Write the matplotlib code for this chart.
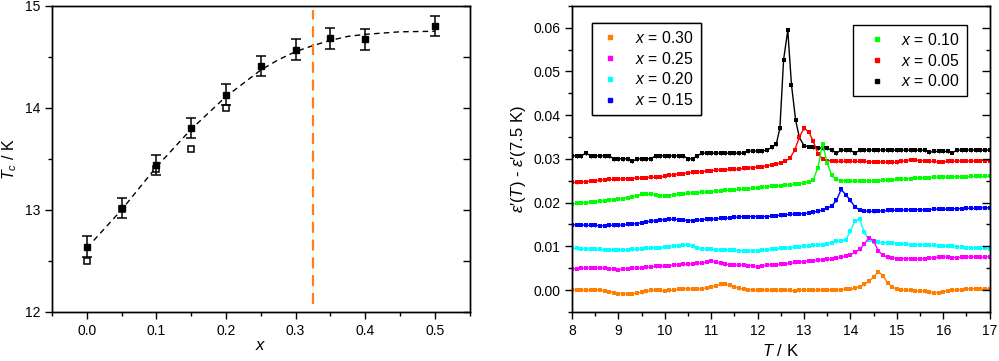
import numpy as np
import matplotlib
matplotlib.use("Agg")
import matplotlib.pyplot as plt
from matplotlib.lines import Line2D
from matplotlib.ticker import MultipleLocator, FormatStrFormatter

plt.rcParams['font.family'] = ['Liberation Sans', 'DejaVu Sans']
plt.rcParams['mathtext.fontset'] = 'custom'
plt.rcParams['mathtext.rm'] = 'Liberation Sans'
plt.rcParams['mathtext.it'] = 'Liberation Sans:italic'

# ---- left panel data: Tc vs x ----
x_fill = [0.0, 0.05, 0.10, 0.15, 0.20, 0.25, 0.30, 0.35, 0.40, 0.50]
tc_fill = [12.64, 13.02, 13.44, 13.80, 14.13, 14.41, 14.57, 14.68, 14.67, 14.80]
tc_err = [0.1] * len(x_fill)
x_open = [0.0, 0.05, 0.10, 0.15, 0.20]
tc_open = [12.50, 13.01, 13.40, 13.60, 14.00]
fit_x = [0.01, 0.05, 0.10, 0.15, 0.20, 0.25, 0.275, 0.30, 0.325, 0.35, 0.375, 0.40, 0.45, 0.50]
fit_y = [12.70, 13.00, 13.42, 13.79, 14.11, 14.37, 14.47, 14.55, 14.61, 14.66, 14.70, 14.72, 14.745, 14.75]
x_boundary = 0.325

# ---- right panel data: eps'(T) - eps'(7.5 K) ----
T = np.round(np.arange(80, 171) / 10, 1)   # 8.0 ... 17.0 K

e030 = [0.0000, 0.0001, 0.0000, -0.0001, 0.0000, 0.0001, 0.0000, -0.0002, -0.0004, -0.0006,
        -0.0008, -0.0008, -0.0009, -0.0008, -0.0007, -0.0005, -0.0003, -0.0001, 0.0000, -0.0001,
        -0.0002, -0.0001, 0.0000, 0.0002, 0.0003, 0.0003, 0.0002, 0.0002, 0.0003, 0.0005,
        0.0007, 0.0010, 0.0013, 0.0014, 0.0011, 0.0007, 0.0004, 0.0002, 0.0001, 0.0000,
        -0.0001, 0.0000, 0.0000, -0.0001, -0.0001, -0.0001, 0.0000, -0.0001, -0.0002, -0.0001,
        0.0000, 0.0000, -0.0001, 0.0000, 0.0001, 0.0001, 0.0000, 0.0000, 0.0001, 0.0002,
        0.0002, 0.0004, 0.0008, 0.0013, 0.0020, 0.0030, 0.0042, 0.0033, 0.0017, 0.0007,
        0.0002, 0.0000, 0.0000, -0.0001, -0.0002, -0.0002, -0.0003, -0.0005, -0.0006, -0.0006,
        -0.0004, -0.0002, -0.0001, 0.0000, 0.0001, 0.0002, 0.0003, 0.0003, 0.0002, 0.0002,
        0.0002]

e025 = [0.0048, 0.0049, 0.0050, 0.0050, 0.0050, 0.0050, 0.0050, 0.0050, 0.0049, 0.0048,
        0.0046, 0.0048, 0.0049, 0.0050, 0.0050, 0.0051, 0.0052, 0.0053, 0.0054, 0.0054,
        0.0055, 0.0056, 0.0057, 0.0058, 0.0059, 0.0059, 0.0060, 0.0061, 0.0062, 0.0064,
        0.0066, 0.0064, 0.0061, 0.0059, 0.0058, 0.0057, 0.0057, 0.0057, 0.0056, 0.0055,
        0.0053, 0.0055, 0.0057, 0.0058, 0.0058, 0.0059, 0.0060, 0.0061, 0.0063, 0.0064,
        0.0065, 0.0066, 0.0067, 0.0068, 0.0069, 0.0070, 0.0071, 0.0073, 0.0075, 0.0078,
        0.0081, 0.0086, 0.0093, 0.0105, 0.0120, 0.0112, 0.0090, 0.0080, 0.0075, 0.0073,
        0.0072, 0.0072, 0.0072, 0.0072, 0.0071, 0.0071, 0.0072, 0.0073, 0.0074, 0.0075,
        0.0076, 0.0075, 0.0074, 0.0074, 0.0075, 0.0075, 0.0076, 0.0076, 0.0075, 0.0075,
        0.0076]

e020 = [0.0095, 0.0095, 0.0094, 0.0094, 0.0093, 0.0093, 0.0093, 0.0092, 0.0092, 0.0092,
        0.0092, 0.0092, 0.0092, 0.0093, 0.0093, 0.0094, 0.0095, 0.0096, 0.0097, 0.0097,
        0.0098, 0.0099, 0.0100, 0.0101, 0.0102, 0.0103, 0.0100, 0.0097, 0.0094, 0.0093,
        0.0093, 0.0092, 0.0092, 0.0092, 0.0091, 0.0091, 0.0090, 0.0090, 0.0090, 0.0090,
        0.0090, 0.0091, 0.0092, 0.0093, 0.0094, 0.0095, 0.0096, 0.0097, 0.0098, 0.0099,
        0.0100, 0.0101, 0.0102, 0.0103, 0.0104, 0.0106, 0.0108, 0.0111, 0.0113, 0.0115,
        0.0135, 0.0158, 0.0162, 0.0132, 0.0115, 0.0110, 0.0109, 0.0108, 0.0108, 0.0107,
        0.0106, 0.0105, 0.0105, 0.0104, 0.0104, 0.0103, 0.0103, 0.0102, 0.0102, 0.0101,
        0.0101, 0.0100, 0.0100, 0.0099, 0.0098, 0.0097, 0.0096, 0.0096, 0.0095, 0.0095,
        0.0094]

e015 = [0.0149, 0.0149, 0.0149, 0.0148, 0.0148, 0.0148, 0.0147, 0.0147, 0.0148, 0.0148,
        0.0148, 0.0149, 0.0150, 0.0151, 0.0152, 0.0154, 0.0156, 0.0157, 0.0159, 0.0160,
        0.0161, 0.0162, 0.0162, 0.0161, 0.0160, 0.0159, 0.0159, 0.0160, 0.0161, 0.0162,
        0.0162, 0.0163, 0.0164, 0.0164, 0.0165, 0.0166, 0.0167, 0.0168, 0.0168, 0.0168,
        0.0168, 0.0168, 0.0168, 0.0169, 0.0170, 0.0171, 0.0172, 0.0173, 0.0174, 0.0174,
        0.0175, 0.0176, 0.0178, 0.0180, 0.0183, 0.0187, 0.0193, 0.0205, 0.0230, 0.0218,
        0.0205, 0.0190, 0.0183, 0.0181, 0.0180, 0.0180, 0.0181, 0.0181, 0.0182, 0.0182,
        0.0183, 0.0183, 0.0183, 0.0184, 0.0184, 0.0184, 0.0183, 0.0184, 0.0185, 0.0185,
        0.0185, 0.0185, 0.0186, 0.0186, 0.0186, 0.0187, 0.0187, 0.0187, 0.0188, 0.0188,
        0.0188]

e010 = [0.0197, 0.0198, 0.0199, 0.0200, 0.0201, 0.0202, 0.0203, 0.0204, 0.0205, 0.0207,
        0.0208, 0.0209, 0.0211, 0.0213, 0.0216, 0.0219, 0.0220, 0.0219, 0.0218, 0.0216,
        0.0215, 0.0216, 0.0218, 0.0219, 0.0220, 0.0221, 0.0222, 0.0223, 0.0224, 0.0224,
        0.0225, 0.0226, 0.0227, 0.0228, 0.0228, 0.0229, 0.0230, 0.0231, 0.0232, 0.0233,
        0.0234, 0.0235, 0.0236, 0.0237, 0.0238, 0.0239, 0.0240, 0.0241, 0.0242, 0.0243,
        0.0245, 0.0247, 0.0252, 0.0280, 0.0335, 0.0290, 0.0262, 0.0253, 0.0250, 0.0250,
        0.0249, 0.0249, 0.0249, 0.0249, 0.0249, 0.0250, 0.0250, 0.0251, 0.0251, 0.0252,
        0.0253, 0.0253, 0.0254, 0.0255, 0.0256, 0.0256, 0.0257, 0.0257, 0.0258, 0.0258,
        0.0258, 0.0258, 0.0259, 0.0259, 0.0259, 0.0259, 0.0260, 0.0260, 0.0260, 0.0260,
        0.0260]

e005 = [0.0246, 0.0246, 0.0247, 0.0248, 0.0249, 0.0250, 0.0251, 0.0252, 0.0253, 0.0253,
        0.0254, 0.0254, 0.0255, 0.0255, 0.0256, 0.0256, 0.0257, 0.0258, 0.0258, 0.0259,
        0.0260, 0.0262, 0.0264, 0.0265, 0.0266, 0.0268, 0.0269, 0.0270, 0.0271, 0.0272,
        0.0273, 0.0274, 0.0275, 0.0275, 0.0276, 0.0276, 0.0277, 0.0278, 0.0279, 0.0280,
        0.0281, 0.0282, 0.0284, 0.0286, 0.0288, 0.0291, 0.0295, 0.0302, 0.0320, 0.0350,
        0.0370, 0.0362, 0.0340, 0.0312, 0.0300, 0.0296, 0.0295, 0.0294, 0.0294, 0.0294,
        0.0294, 0.0294, 0.0294, 0.0294, 0.0293, 0.0293, 0.0293, 0.0293, 0.0292, 0.0292,
        0.0292, 0.0294, 0.0296, 0.0298, 0.0297, 0.0296, 0.0295, 0.0294, 0.0294, 0.0293,
        0.0293, 0.0294, 0.0294, 0.0295, 0.0295, 0.0295, 0.0295, 0.0295, 0.0296, 0.0296,
        0.0296]

# x = 0.00 has extra points through its sharp peak
T_peak00 = [12.4, 12.48, 12.56, 12.65, 12.73, 12.82, 12.9]
e000_low = [0.0307, 0.0307, 0.0307, 0.0313, 0.0307, 0.0307, 0.0307, 0.0307, 0.0307, 0.0300,
            0.0300, 0.0300, 0.0300, 0.0294, 0.0300, 0.0300, 0.0300, 0.0300, 0.0307, 0.0307,
            0.0307, 0.0307, 0.0307, 0.0307, 0.0307, 0.0300, 0.0300, 0.0307, 0.0313, 0.0313,
            0.0313, 0.0313, 0.0313, 0.0313, 0.0313, 0.0313, 0.0313, 0.0313, 0.0318, 0.0318,
            0.0318, 0.0318, 0.0320, 0.0326]
e000_peak = [0.0333, 0.0370, 0.0527, 0.0594, 0.0469, 0.0388, 0.0349]
e000_high = [0.0330, 0.0328, 0.0326, 0.0325, 0.0324, 0.0324, 0.0320, 0.0313, 0.0320, 0.0320,
             0.0320, 0.0313, 0.0320, 0.0320, 0.0320, 0.0320, 0.0320, 0.0320, 0.0320, 0.0320,
             0.0320, 0.0320, 0.0320, 0.0320, 0.0320, 0.0320, 0.0320, 0.0315, 0.0317, 0.0317,
             0.0317, 0.0317, 0.0314, 0.0320, 0.0320, 0.0320, 0.0320, 0.0320, 0.0320, 0.0320,
             0.0320]
T00 = np.concatenate([T[:44], T_peak00, T[50:]])
e000 = e000_low + e000_peak + e000_high

labels = ['0.30', '0.25', '0.20', '0.15', '0.10', '0.05', '0.00']
colors = ['#ff7f00', '#ff00ff', '#00ffff', '#0000ff', '#00ff00', '#ff0000', '#000000']

fig = plt.figure(figsize=(9.99, 3.61), dpi=100)
ax1 = fig.add_axes([0.052, 0.136, 0.418, 0.848])
ax2 = fig.add_axes([0.5726, 0.136, 0.418, 0.848])

# ---------- left ----------
ax1.plot(fit_x, fit_y, color='black', lw=1, dashes=(4, 3))
ax1.plot(x_open, tc_open, 's', ms=5, mfc='white', mec='black', mew=1.1)
ax1.errorbar(x_fill, tc_fill, yerr=tc_err, fmt='s', ms=5, color='black',
             ecolor='black', elinewidth=1.1, capsize=3.5, capthick=1.1)
ax1.plot([x_boundary, x_boundary], [12.08, 14.96], color='#ff7f1e', lw=1.6, dashes=(5, 3))

ax1.set_xlim(-0.05, 0.55)
ax1.set_ylim(12, 15)
ax1.xaxis.set_major_locator(MultipleLocator(0.1))
ax1.xaxis.set_minor_locator(MultipleLocator(0.05))
ax1.xaxis.set_major_formatter(FormatStrFormatter('%.1f'))
ax1.yaxis.set_major_locator(MultipleLocator(1))
ax1.yaxis.set_minor_locator(MultipleLocator(0.5))
ax1.tick_params(which='both', direction='out', top=False, right=False, labelsize=10, width=1)
ax1.tick_params(which='major', length=5)
ax1.tick_params(which='minor', length=3)
ax1.set_xlabel('$x$', fontsize=12, labelpad=0)
ax1.set_ylabel('$T_c$ / K', fontsize=11.5)
ax1.yaxis.set_label_coords(-0.078, 0.5)

r1 = ax1.twinx()
r1.set_ylim(12, 15)
r1.yaxis.set_major_locator(MultipleLocator(1))
r1.yaxis.set_minor_locator(MultipleLocator(0.5))
r1.tick_params(which='both', direction='in', labelright=False, length=5, width=1)

# ---------- right ----------
series = [(T, e030), (T, e025), (T, e020), (T, e015), (T, e010), (T, e005), (T00, e000)]
for (tt, ee), c in zip(series[::-1], colors[::-1]):
    err = 0.0004 if c == '#000000' else 0.0003
    ax2.errorbar(tt, ee, yerr=err, fmt='s-', ms=3.2, mew=0, color=c, lw=1,
                 elinewidth=0.8, capsize=2 if c == '#000000' else 1.6, capthick=0.8)

ax2.set_xlim(8, 17)
ax2.set_ylim(-0.005, 0.065)
ax2.xaxis.set_major_locator(MultipleLocator(1))
ax2.xaxis.set_minor_locator(MultipleLocator(0.5))
ax2.yaxis.set_major_locator(MultipleLocator(0.01))
ax2.yaxis.set_minor_locator(MultipleLocator(0.005))
ax2.yaxis.set_major_formatter(FormatStrFormatter('%.2f'))
ax2.tick_params(which='both', direction='out', top=False, right=False, labelsize=10, width=1)
ax2.tick_params(which='major', length=5)
ax2.tick_params(which='minor', length=3)
ax2.set_xlabel('$T$ / K', fontsize=12, labelpad=4)
ax2.set_ylabel("$\\varepsilon$\u2032($T$) - $\\varepsilon$\u2032(7.5 K)", fontsize=12)
ax2.yaxis.set_label_coords(-0.105, 0.5)

r2 = ax2.twinx()
r2.set_ylim(-0.005, 0.065)
r2.yaxis.set_major_locator(MultipleLocator(0.01))
r2.yaxis.set_minor_locator(MultipleLocator(0.005))
r2.tick_params(which='both', direction='in', labelright=False, width=1)
r2.tick_params(which='major', length=6)
r2.tick_params(which='minor', length=3)

for a in (ax1, r1, ax2, r2):
    for s in a.spines.values():
        s.set_linewidth(1)

handles = [Line2D([], [], marker='s', ls='none', color=c, ms=3.5) for c in colors]
names = ['$x$ = ' + l for l in labels]
leg1 = ax2.legend(handles[:4], names[:4], loc='upper left', bbox_to_anchor=(0.048, 0.944),
                  borderaxespad=0, fancybox=False, edgecolor='black', framealpha=1,
                  fontsize=11.3, handlelength=1.43, handletextpad=0.88, labelspacing=0.3,
                  borderpad=0.45)
leg1.get_frame().set_linewidth(1)
ax2.add_artist(leg1)
leg2 = r2.legend(handles[4:], names[4:], loc='upper right', bbox_to_anchor=(0.945, 0.938),
                 borderaxespad=0, fancybox=False, edgecolor='black', framealpha=1,
                 fontsize=11.3, handlelength=2.2, handletextpad=0.41, labelspacing=0.3,
                 borderpad=0.45)
leg2.get_frame().set_linewidth(1)

fig.savefig('out.png', dpi=100)
